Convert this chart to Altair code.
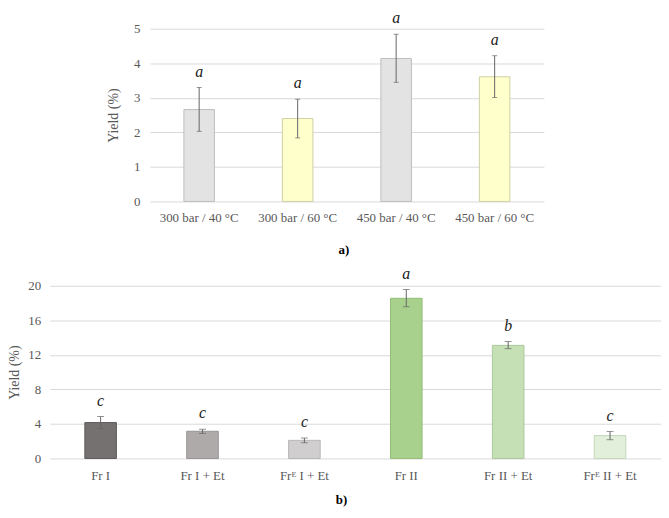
import altair as alt
import pandas as pd

# ---- panel a) data ----
top_conditions = ["300 bar / 40 °C", "300 bar / 60 °C", "450 bar / 40 °C", "450 bar / 60 °C"]
top_yield = [2.66, 2.40, 4.14, 3.61]
top_err_low = [2.03, 1.84, 3.45, 3.01]
top_err_high = [3.30, 2.96, 4.84, 4.22]
top_letters = ["a", "a", "a", "a"]
top_colors = ["#e3e3e3", "#ffffcc", "#e3e3e3", "#ffffcc"]
top_strokes = ["#bdbdbd", "#cfcfa6", "#bdbdbd", "#cfcfa6"]
top_ticks = [0, 1, 2, 3, 4, 5]

# ---- panel b) data ----
bottom_fractions = ["Fr I", "Fr I + Et", "Frᴱ I + Et", "Fr II", "Fr II + Et", "Frᴱ II + Et"]
bottom_yield = [4.16, 3.15, 2.10, 18.55, 13.10, 2.65]
bottom_err_low = [3.47, 2.90, 1.82, 17.57, 12.72, 2.17]
bottom_err_high = [4.86, 3.38, 2.36, 19.57, 13.55, 3.12]
bottom_letters = ["c", "c", "c", "a", "b", "c"]
bottom_colors = ["#767171", "#aeaaaa", "#d0cece", "#a9d18e", "#c5e0b4", "#e2efda"]
bottom_strokes = ["#5f5b5b", "#979393", "#b8b6b6", "#93bd77", "#abc99a", "#c4d6b9"]
bottom_ticks = [0, 4, 8, 12, 16, 20]

FONT = "Liberation Serif"
GREY = "#595959"


def panel(cats, vals, lows, highs, letters, colors, strokes, ticks, width, height,
          caption, cap_dx, cap_offset, cap_tick, title_pad, label_pad, xlabel_pad):
    df = pd.DataFrame({"cat": cats, "val": vals, "low": lows, "high": highs, "let": letters})
    x = alt.X("cat:N", sort=cats, title=None,
              scale=alt.Scale(paddingInner=0.69, paddingOuter=0.345),
              axis=alt.Axis(labelAngle=0, labelFont=FONT, labelFontSize=13, labelColor=GREY,
                            labelPadding=xlabel_pad, domain=False, ticks=False, grid=False))
    yscale = alt.Scale(domain=[ticks[0], ticks[-1]], nice=False)
    yaxis = alt.Axis(values=ticks, title="Yield (%)", titleFont=FONT, titleFontSize=14,
                     titleFontWeight="normal", titleColor=GREY, titlePadding=title_pad,
                     labelFont=FONT, labelFontSize=13, labelColor=GREY, labelPadding=label_pad,
                     labelOverlap=False, domain=False, ticks=False, grid=True,
                     gridColor="#d9d9d9")
    base = alt.Chart(df)
    bars = base.mark_bar(strokeWidth=1).encode(
        x=x,
        y=alt.Y("val:Q", scale=yscale, axis=yaxis, title="Yield (%)"),
        color=alt.Color("cat:N", scale=alt.Scale(domain=cats, range=colors), legend=None),
        stroke=alt.Stroke("cat:N", scale=alt.Scale(domain=cats, range=strokes), legend=None),
    )
    rule = base.mark_rule(color="#666666", strokeWidth=1).encode(
        x=x, y=alt.Y("low:Q", scale=yscale, axis=yaxis, title="Yield (%)"), y2="high:Q")
    tlow = base.mark_tick(color="#666666", size=cap_tick, thickness=1).encode(
        x=x, y=alt.Y("low:Q", scale=yscale, axis=yaxis, title="Yield (%)"))
    thigh = base.mark_tick(color="#666666", size=cap_tick, thickness=1).encode(
        x=x, y=alt.Y("high:Q", scale=yscale, axis=yaxis, title="Yield (%)"))
    txt = base.mark_text(font=FONT, fontStyle="italic", fontSize=16, baseline="alphabetic",
                         dy=-11, color="#1a1a1a").encode(
        x=x, y=alt.Y("high:Q", scale=yscale, axis=yaxis, title="Yield (%)"), text="let:N")
    return alt.layer(bars, rule, tlow, thigh, txt).properties(
        width=width, height=height,
        title=alt.TitleParams(text=caption, orient="bottom", anchor="middle", font=FONT,
                              fontSize=13, fontWeight="bold", color="black",
                              offset=cap_offset, dx=cap_dx))


top = panel(top_conditions, top_yield, top_err_low, top_err_high, top_letters,
            top_colors, top_strokes, top_ticks, 397, 174, "a)", -3, 20, 5, 13, 10, 10)
bottom = panel(bottom_fractions, bottom_yield, bottom_err_low, bottom_err_high, bottom_letters,
               bottom_colors, bottom_strokes, bottom_ticks, 616, 174, "b)", -14, 12, 7, 6, 9, 11)

spacer = alt.Chart(pd.DataFrame({"v": [0]})).mark_point(opacity=0).encode(
    x=alt.X("v:Q", axis=None), y=alt.Y("v:Q", axis=None)).properties(width=57, height=1)

top_row = alt.hconcat(spacer, top, spacing=0).resolve_scale(color="independent", stroke="independent")
chart = (alt.vconcat(top_row, bottom, spacing=8)
         .resolve_scale(color="independent", stroke="independent")
         .properties(padding=0)
         .configure_view(stroke=None))

chart.save("out.html", embed_options={"renderer": "svg", "actions": False})
